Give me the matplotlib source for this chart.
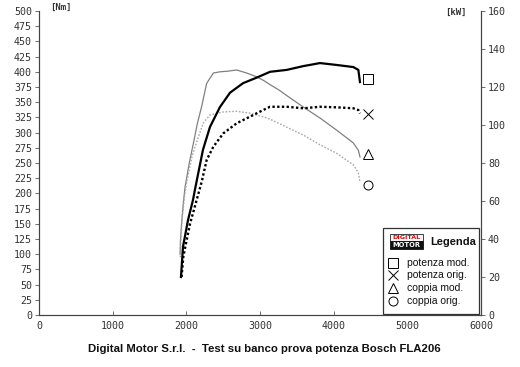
import matplotlib
matplotlib.use("Agg")
import matplotlib.pyplot as plt
from matplotlib.patches import Rectangle

# ---- data ----
rpm_torque_mod = [1915, 1920, 1935, 1960, 1982, 2040, 2095, 2150, 2208, 2276, 2367,
                  2457, 2560, 2683, 2819, 2950, 3045, 3136, 3271, 3362, 3588, 3814,
                  4041, 4267, 4335, 4357]
torque_mod = [100, 122, 150, 185, 210, 250, 282, 315, 343, 381, 398,
              400, 401, 403, 398, 392, 386, 379, 369, 361, 342, 324,
              304, 283, 271, 260]

rpm_torque_orig = [1918, 1925, 1945, 1975, 2010, 2080, 2163, 2231, 2321, 2502, 2683,
                   2864, 3045, 3136, 3362, 3588, 3814, 4041, 4267, 4335, 4357]
torque_orig = [95, 120, 160, 195, 222, 262, 293, 316, 329, 334, 335,
               332, 326, 322, 309, 296, 280, 266, 247, 234, 219]

rpm_power_mod = [1927, 1955, 2023, 2090, 2117, 2226, 2321, 2457, 2593, 2769, 2959,
                 3136, 3362, 3588, 3814, 4041, 4267, 4335, 4357]
power_mod = [20, 36, 50, 60.5, 66, 87, 99, 109.5, 117, 122, 125,
             128, 129, 131, 132.6, 131.6, 130.5, 129, 122.6]

rpm_power_orig = [1935, 1959, 2050, 2140, 2208, 2276, 2367, 2502, 2683, 2864, 3045,
                  3136, 3362, 3588, 3814, 4041, 4267, 4335, 4357]
power_orig = [20, 30.7, 48, 60.5, 70, 81.6, 88.6, 95.6, 100.9, 104.4, 107.9,
              109.6, 109.6, 108.8, 109.6, 109.3, 108.8, 107.9, 106.1]

# end-of-curve markers (rpm, value)
marker_rpm = 4466
marker_power_mod = 124
marker_power_orig = 106
marker_torque_mod = 265
marker_torque_orig = 214

nm_ticks = list(range(0, 501, 25))
kw_ticks = list(range(0, 161, 20))
rpm_ticks = list(range(0, 6001, 1000))

legend_labels = ["potenza mod.", "potenza orig.", "coppia mod.", "coppia orig."]
legend_markers = ["s", "x", "^", "o"]

title = "Digital Motor S.r.l.  -  Test su banco prova potenza Bosch FLA206"

TICK_FONT = dict(family="DejaVu Sans Mono", size=7.2, color="#333333")

fig = plt.figure(figsize=(5.2, 3.67), dpi=100)
ax = fig.add_axes([0.075, 0.1417, 0.85, 0.8283])
ax2 = ax.twinx()

# torque on the left axis (Nm)
ax.plot(rpm_torque_mod, torque_mod, color="#808080", lw=0.9)
ax.plot(rpm_torque_orig, torque_orig, color="#a8a8a8", lw=1.0, ls=(0, (1.2, 1.2)))
# power on the right axis (kW)
ax2.plot(rpm_power_mod, power_mod, color="black", lw=1.6)
ax2.plot(rpm_power_orig, power_orig, color="black", lw=1.7, ls=(0, (1, 1)))

mk = dict(ms=6.5, mfc="none", mec="black", mew=0.7, ls="none")
ax2.plot([marker_rpm], [marker_power_mod], marker="s", **mk)
ax2.plot([marker_rpm], [marker_power_orig], marker="x", **mk)
ax.plot([marker_rpm], [marker_torque_mod], marker="^", **mk)
ax.plot([marker_rpm], [marker_torque_orig], marker="o", **mk)

ax.set_xlim(0, 6000)
ax.set_ylim(0, 500)
ax2.set_ylim(0, 160)

ax.set_xticks(rpm_ticks)
ax.set_yticks(nm_ticks)
ax2.set_yticks(kw_ticks)
ax.set_xticklabels([str(t) for t in rpm_ticks], **TICK_FONT)
ax.set_yticklabels([str(t) for t in nm_ticks], **TICK_FONT)
ax2.set_yticklabels([str(t) for t in kw_ticks], **TICK_FONT)
ax.tick_params(axis="y", direction="out", length=3, width=0.6, color="#555555", pad=2)
ax.tick_params(axis="x", direction="in", length=3, width=0.6, color="#555555", pad=4)
ax2.tick_params(axis="y", direction="out", length=3, width=0.6, color="#555555", pad=2)

for a in (ax, ax2):
    a.spines["top"].set_visible(False)
    for s in ("left", "right", "bottom"):
        a.spines[s].set_linewidth(0.8)
        a.spines[s].set_color("#444444")

fig.text(50 / 520, 1 - 7 / 367, "[Nm]", ha="left", va="center",
         family="DejaVu Sans Mono", weight="bold", size=6.5, color="#333333")
fig.text(445 / 520, 1 - 12 / 367, "[kW]", ha="left", va="center",
         family="DejaVu Sans Mono", weight="bold", size=6.5, color="#333333")

# ---- hand-drawn legend box, as on the sheet ----
def axx(px):
    return (px - 39) / 442

def axy(py):
    return (315 - py) / 304

T = ax2.transAxes
ax2.add_patch(Rectangle((axx(383), axy(314)), axx(479) - axx(383), axy(228) - axy(314),
                        transform=T, fill=True, fc="white", ec="#333333", lw=0.9,
                        zorder=5, clip_on=False))
# logo
ax2.add_patch(Rectangle((axx(390), axy(241.5)), axx(423) - axx(390), axy(234) - axy(241.5),
                        transform=T, fc="#f4f4f4", ec="#222222", lw=0.6, zorder=6))
ax2.add_patch(Rectangle((axx(390), axy(249)), axx(423) - axx(390), axy(241.5) - axy(249),
                        transform=T, fc="#111111", ec="#111111", lw=0.6, zorder=6))
ax2.text((axx(390) + axx(423)) / 2, axy(237.8), "DIGITAL", transform=T, ha="center",
         va="center", family="DejaVu Sans", weight="bold", size=4.6, color="#d01010", zorder=7)
ax2.text((axx(390) + axx(423)) / 2, axy(245.3), "MOTOR", transform=T, ha="center",
         va="center", family="DejaVu Sans", weight="bold", size=4.8, color="white", zorder=7)
ax2.text(axx(430), axy(242), "Legenda", transform=T, ha="left", va="center",
         family=["Liberation Sans Narrow", "Liberation Sans"], weight="bold",
         size=8, color="#111111", zorder=7)

rows = [263, 275.5, 288, 301]
for lab, m, py in zip(legend_labels, legend_markers, rows):
    ax2.plot([axx(393)], [axy(py)], marker=m, transform=T, ms=6.5, mfc="none",
             mec="black", mew=0.7, ls="none", zorder=7, clip_on=False)
    ax2.text(axx(407), axy(py), lab, transform=T, ha="left", va="center",
             family="Liberation Sans", size=7.5, color="#111111", zorder=7)

fig.text(264 / 520, 1 - 349 / 367, title, ha="center", va="center",
         family=["Liberation Sans Narrow", "Liberation Sans"], weight="bold",
         size=8.2, color="#111111")

fig.savefig("out.png", dpi=100)
